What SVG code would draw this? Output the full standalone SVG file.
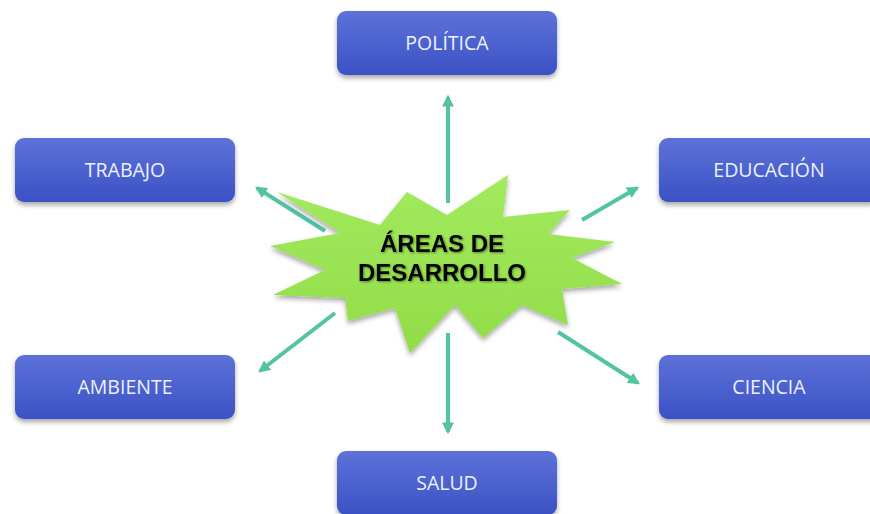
<svg xmlns="http://www.w3.org/2000/svg" width="870" height="514" viewBox="0 0 870 514">
<defs>
<linearGradient id="boxg" x1="0" y1="0" x2="0" y2="1">
<stop offset="0" stop-color="#5d72d9"/>
<stop offset="1" stop-color="#3b51c4"/>
</linearGradient>
<linearGradient id="starg" x1="0" y1="0" x2="0" y2="1">
<stop offset="0" stop-color="#a2ea5e"/>
<stop offset="1" stop-color="#92dc48"/>
</linearGradient>
<filter id="sh" x="-20%" y="-30%" width="140%" height="170%">
<feDropShadow dx="0" dy="3" stdDeviation="2.5" flood-color="#000" flood-opacity="0.35"/>
</filter>
<filter id="tsh" x="-10%" y="-30%" width="120%" height="160%">
<feDropShadow dx="1" dy="1" stdDeviation="1" flood-color="#2a4a10" flood-opacity="0.6"/>
</filter>
<marker id="ah" viewBox="0 0 10 10" refX="8" refY="5" markerWidth="3" markerHeight="3" orient="auto" markerUnits="strokeWidth">
<path d="M0,0 L10,5 L0,10 Z" fill="#52c4a2"/>
</marker>
</defs>
<style>
.box{fill:url(#boxg);filter:url(#sh);}
.lbl{font-family:"Open Sans","Noto Sans","Liberation Sans",sans-serif;font-size:19.5px;fill:#eef1ff;text-anchor:middle;}
.con{stroke:#52c4a2;stroke-width:4;fill:none;marker-end:url(#ah);}
.ctr{font-family:"Liberation Sans",Arial,sans-serif;font-weight:bold;font-size:24px;fill:#000;text-anchor:middle;filter:url(#tsh);}
</style>
<rect width="870" height="514" fill="#ffffff"/>
<g id="connectors">
<line class="con" x1="448" y1="203" x2="448" y2="97"/>
<line class="con" x1="448" y1="333" x2="448" y2="432"/>
<line class="con" x1="325" y1="231" x2="257" y2="188"/>
<line class="con" x1="582" y1="220" x2="637" y2="188"/>
<line class="con" x1="335" y1="313" x2="260" y2="371"/>
<line class="con" x1="558" y1="332" x2="638" y2="383"/>
</g>
<g id="center">
<polygon points="277,192 380,225 407,192 447,215 508,175 503,217 570,210 548,234 615,242 572,258 622,284 562,289 568,325 522,305 483,338 455,305 410,353 395,308 348,321 345,298 273,295 325,270 270,246 340,233" fill="url(#starg)" filter="url(#sh)"/>
<text class="ctr" x="442" y="252">ÁREAS DE</text>
<text class="ctr" x="442" y="281">DESARROLLO</text>
</g>
<g id="politica">
<rect class="box" x="337" y="11" width="220" height="64" rx="9"/>
<text class="lbl" x="447" y="50">POLÍTICA</text>
</g>
<g id="trabajo">
<rect class="box" x="15" y="138" width="220" height="64" rx="9"/>
<text class="lbl" x="125" y="177">TRABAJO</text>
</g>
<g id="educacion">
<rect class="box" x="659" y="138" width="220" height="64" rx="9"/>
<text class="lbl" x="769" y="177">EDUCACIÓN</text>
</g>
<g id="ambiente">
<rect class="box" x="15" y="355" width="220" height="64" rx="9"/>
<text class="lbl" x="125" y="394">AMBIENTE</text>
</g>
<g id="ciencia">
<rect class="box" x="659" y="355" width="220" height="64" rx="9"/>
<text class="lbl" x="769" y="394">CIENCIA</text>
</g>
<g id="salud">
<rect class="box" x="337" y="451" width="220" height="64" rx="9"/>
<text class="lbl" x="447" y="490">SALUD</text>
</g>
</svg>
